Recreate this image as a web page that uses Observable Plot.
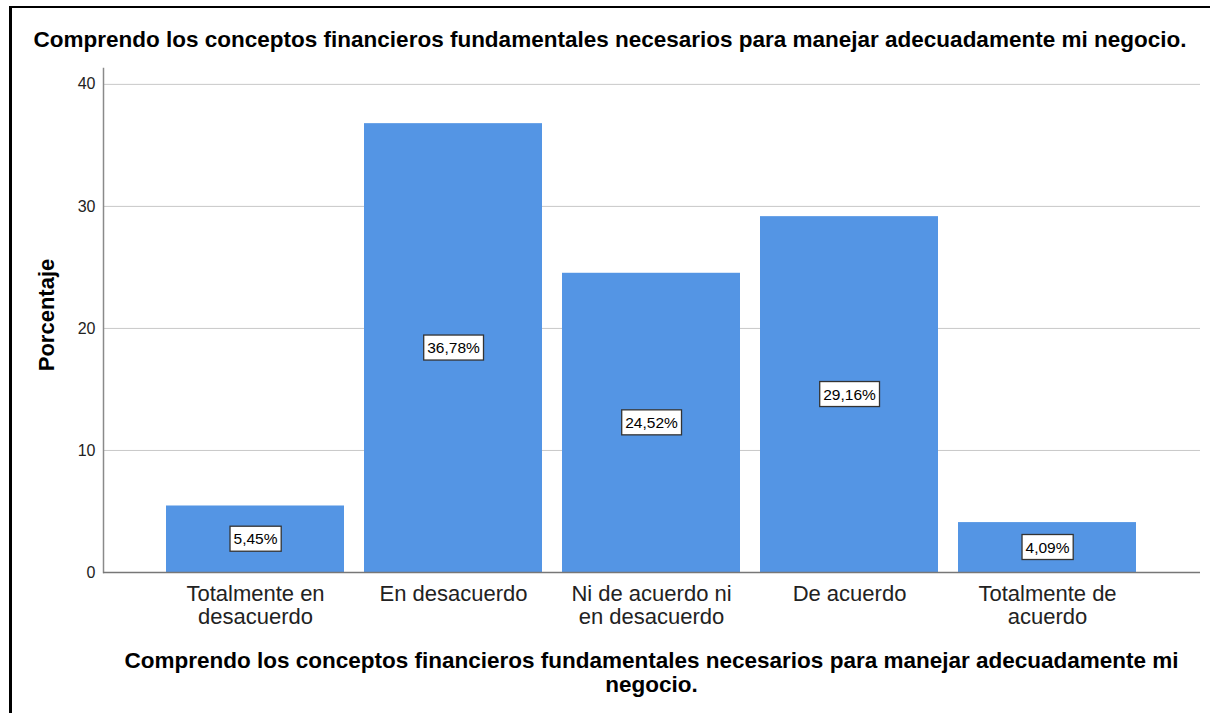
<!DOCTYPE html>
<html>
<head>
<meta charset="utf-8">
<script src="https://cdn.jsdelivr.net/npm/d3@7"></script>
<script src="https://cdn.jsdelivr.net/npm/@observablehq/plot@0.6"></script>
<style>
  html, body { margin: 0; padding: 0; background: #fff; }
  body { font-family: "Liberation Sans", Arial, sans-serif; }
  #wrap { position: relative; width: 1210px; height: 713px; overflow: hidden; background: #fff; }
  #border { position: absolute; left: 9px; top: 6px; width: 1220px; height: 720px;
            border-left: 3px solid #000; border-top: 2px solid #000; box-sizing: border-box; }
  #title { position: absolute; left: 10px; width: 1200px; top: 29px; text-align: center;
           font-weight: bold; font-size: 22.5px; line-height: 21px; color: #000; white-space: nowrap; }
  #chart { position: absolute; left: 0; top: 50px; }
  #ylabel { position: absolute; left: 47px; top: 315px; transform: translate(-50%, -50%) rotate(-90deg);
            font-weight: bold; font-size: 22px; line-height: 22px; color: #000; white-space: nowrap; }
  #xlabel { position: absolute; left: 103px; width: 1097px; top: 649px; text-align: center;
            font-weight: bold; font-size: 22.5px; line-height: 24px; color: #000; white-space: nowrap; }
</style>
</head>
<body>
<div id="wrap">
  <div id="border"></div>
  <div id="title"></div>
  <div id="chart"></div>
  <div id="ylabel"></div>
  <div id="xlabel"></div>
</div>
<script>
const chartTitle = "Comprendo los conceptos financieros fundamentales necesarios para manejar adecuadamente mi negocio.";
const xTitleLines = ["Comprendo los conceptos financieros fundamentales necesarios para manejar adecuadamente mi", "negocio."];
const yTitle = "Porcentaje";
const categories = ["Totalmente en desacuerdo", "En desacuerdo", "Ni de acuerdo ni en desacuerdo", "De acuerdo", "Totalmente de acuerdo"];
const tickLabels = ["Totalmente en\ndesacuerdo", "En desacuerdo", "Ni de acuerdo ni\nen desacuerdo", "De acuerdo", "Totalmente de\nacuerdo"];
const values = [5.45, 36.78, 24.52, 29.16, 4.09];
const yTicks = [0, 10, 20, 30, 40];

const data = categories.map((c, i) => ({cat: c, value: values[i]}));
const fmt = v => v.toFixed(2).replace(".", ",") + "%";

document.getElementById("title").textContent = chartTitle;
document.getElementById("ylabel").textContent = yTitle;
const xl = document.getElementById("xlabel");
xTitleLines.forEach((t, i) => { if (i) xl.appendChild(document.createElement("br")); xl.appendChild(document.createTextNode(t)); });

const plot = Plot.plot({
  width: 1210,
  height: 600,
  marginLeft: 103,
  marginRight: 10,
  marginTop: 18,
  marginBottom: 78,
  style: {fontFamily: "'Liberation Sans', Arial, sans-serif", background: "transparent", overflow: "visible"},
  x: {domain: categories, paddingInner: 0.1, paddingOuter: 0.32, label: null},
  y: {domain: [0, 41.3], label: null},
  marks: [
    Plot.gridY(yTicks.filter(d => d > 0), {stroke: "#c8c8c8", strokeOpacity: 1, strokeWidth: 1}),
    Plot.barY(data, {x: "cat", y: "value", fill: "#5495e4"}),
    Plot.frame({anchor: "left", stroke: "#8a8a8a", strokeWidth: 1.5}),
    Plot.ruleY([0], {stroke: "#777", strokeWidth: 1.5}),
    Plot.axisY({ticks: yTicks, tickSize: 0, tickPadding: 8, fontSize: 16, fill: "#222", label: null}),
    Plot.axisX({tickSize: 0, tickPadding: 12, fontSize: 22, fill: "#222", lineHeight: 1.05,
                tickFormat: d => tickLabels[categories.indexOf(d)], label: null}),
    Plot.text(data, {x: "cat", y: d => d.value / 2, text: d => fmt(d.value), fontSize: 15.5, fill: "#000", className: "vlabel"})
  ]
});
document.getElementById("chart").appendChild(plot);

// white boxes behind the value labels
const svg = plot.tagName.toLowerCase() === "svg" ? plot : plot.querySelector("svg");
svg.querySelectorAll("g.vlabel text").forEach(t => {
  const b = t.getBBox();
  const r = document.createElementNS("http://www.w3.org/2000/svg", "rect");
  const padX = 3.5, padY = 4;
  const cy = b.y + b.height / 2;
  r.setAttribute("x", b.x - padX);
  r.setAttribute("y", cy - 12.5);
  r.setAttribute("width", b.width + 2 * padX);
  r.setAttribute("height", 25);
  r.setAttribute("fill", "#fff");
  r.setAttribute("stroke", "#333");
  r.setAttribute("stroke-width", "1.3");
  const tr = t.getAttribute("transform");
  if (tr) r.setAttribute("transform", tr);
  t.parentNode.insertBefore(r, t);
});
</script>
</body>
</html>
